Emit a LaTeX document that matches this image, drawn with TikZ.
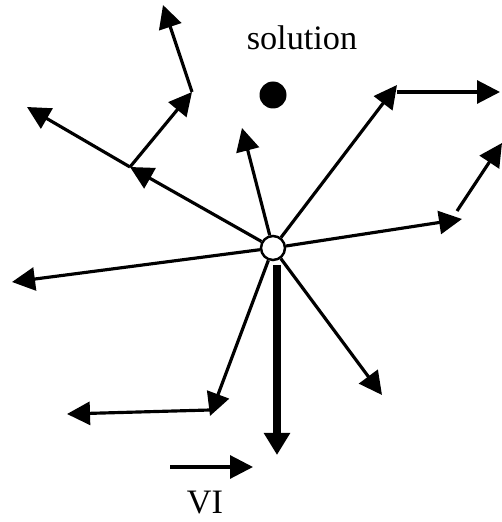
\documentclass[tikz,border=0pt]{standalone}
\usepackage{fontspec}
\setmainfont{Liberation Serif}
\usetikzlibrary{arrows.meta}

\begin{document}
\begin{tikzpicture}[line width=1.8pt,
  vec/.style={-{Triangle[length=0.46cm,width=0.46cm]}},
  bigvec/.style={line width=4.4pt, -{Triangle[length=0.44cm,width=0.5cm]}},
  tag/.style={font=\fontsize{19.5}{22}\selectfont, inner sep=1pt}]
  \useasboundingbox (0,0) rectangle (10.04,10.44);

  \node[circle, draw, fill=white, line width=1.4pt, minimum size=0.48cm,
    inner sep=0pt] (origin) at (5.46,5.48) {};
  \node[circle, fill=black, minimum size=0.54cm, inner sep=0pt] (sol) at (5.46,8.54) {};
  \node[tag] (soltext) at (6.04,9.68) {solution};
  \node[tag] (vitext) at (4.10,0.38) {VI};

  % tips of the vectors and the ends of the second steps
  \foreach \name/\x/\y in {a/2.60/7.10, far/0.54/8.30, b/3.84/8.60, c/3.26/10.34,
      u/4.84/7.88, d/7.94/8.74, ds/7.94/8.60, de/10.00/8.60,
      e/9.24/6.06, es/9.14/6.22, ee/10.04/7.58, f/0.24/4.80,
      g/4.20/2.12, gs/4.20/2.24, ge/1.34/2.16, k/7.64/2.54,
      top/5.54/5.14, bottom/5.54/1.34, vis/3.40/1.10, vie/5.06/1.10}
    \coordinate (\name) at (\x,\y);

  \foreach \tip in {a,u,d,e,f,g,k}
    \draw[vec] (origin) -- (\tip);
  \draw[vec] (a) -- (far);
  \draw[vec] (a) -- (b);
  \draw[vec] (b) -- (c);
  \draw[vec] (ds) -- (de);
  \draw[vec] (es) -- (ee);
  \draw[vec] (gs) -- (ge);
  \draw[bigvec] (top) -- (bottom);
  \draw[vec] (vis) -- (vie);
\end{tikzpicture}
\end{document}
